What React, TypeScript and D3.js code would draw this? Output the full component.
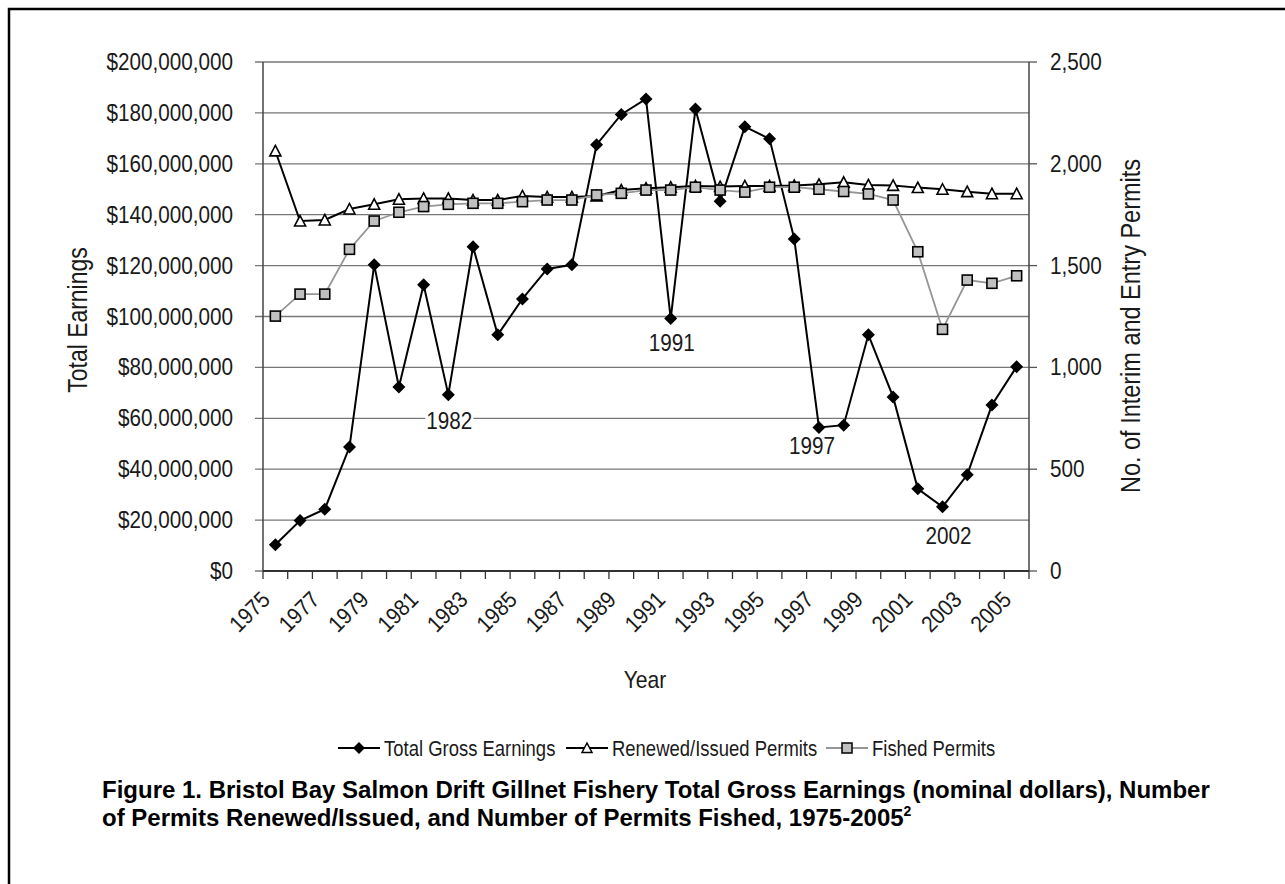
import React from "react";
import * as d3 from "d3";

const years = d3.range(1975, 2006).map(String);
// Total gross earnings, millions of dollars
const earnings = [10.3, 19.8, 24.3, 48.7, 120.3, 72.3, 112.5, 69.3, 127.4, 92.8, 106.9, 118.7, 120.3, 167.5, 179.4, 185.5, 99.2, 181.5, 145.3, 174.6, 169.8, 130.5, 56.4, 57.3, 92.8, 68.4, 32.3, 25.2, 37.8, 65.2, 80.3];
const renewed = [2063, 1719, 1724, 1778, 1801, 1826, 1830, 1830, 1822, 1822, 1842, 1837, 1837, 1842, 1871, 1880, 1885, 1891, 1888, 1891, 1891, 1893, 1899, 1909, 1896, 1894, 1883, 1875, 1863, 1853, 1853];
const fished = [1252, 1360, 1360, 1580, 1719, 1762, 1790, 1801, 1806, 1806, 1814, 1822, 1822, 1847, 1855, 1871, 1871, 1885, 1871, 1861, 1885, 1885, 1875, 1864, 1852, 1822, 1568, 1187, 1429, 1413, 1450];
const leftTicks = [0, 20, 40, 60, 80, 100, 120, 140, 160, 180, 200];
const rightTicks = [0, 500, 1000, 1500, 2000, 2500];
const annotations = [
  { year: "1982", dx: 1, y: 421 },
  { year: "1991", dx: 1, y: 343 },
  { year: "1997", dx: -7, y: 446 },
  { year: "2002", dx: 6, y: 536 },
];
const legendItems = ["Total Gross Earnings", "Renewed/Issued Permits", "Fished Permits"];

const FONT = "'Liberation Sans', Arial, sans-serif";

type TProps = {
  x: number;
  y: number;
  rot?: number;
  sx?: number;
  size?: number;
  anchor?: "start" | "middle" | "end";
  dy?: string;
  children: React.ReactNode;
};

function CText({ x, y, rot = 0, sx = 0.9, size = 23, anchor = "start", dy = "0.35em", children }: TProps) {
  return (
    <text
      transform={`translate(${x},${y}) rotate(${rot}) scale(${sx},1)`}
      textAnchor={anchor}
      dy={dy}
      fontFamily={FONT}
      fontSize={size}
      fill="#1a1a1a"
    >
      {children}
    </text>
  );
}

export default function App() {
  const L = 263, R = 1029, T = 62, B = 571;
  const x = d3.scaleBand<string>().domain(years).range([L, R]).padding(0);
  const cx = (y: string) => (x(y) as number) + x.bandwidth() / 2;
  const yL = d3.scaleLinear().domain([0, 200]).range([B, T]);
  const yR = d3.scaleLinear().domain([0, 2500]).range([B, T]);

  const lineE = d3.line<number>().x((_, i) => cx(years[i])).y((d) => yL(d));
  const lineR = d3.line<number>().x((_, i) => cx(years[i])).y((d) => yR(d));

  const diamond = (px: number, py: number, s = 6.5) =>
    `M${px},${py - s}L${px + s},${py}L${px},${py + s}L${px - s},${py}Z`;
  const triangle = (px: number, py: number, s = 5.5) =>
    `M${px},${py - s}L${px + s},${py + s * 0.9}L${px - s},${py + s * 0.9}Z`;

  const boundaries = d3.range(years.length + 1).map((i) => L + i * x.bandwidth());

  // legend layout
  const LY = 748;
  const legendStarts = [338, 566, 826];
  const legendTextSize = 22;
  const legendSx = 0.84;

  return (
    <svg
      width={1285}
      height={884}
      style={{ position: "absolute", left: 0, top: 0, display: "block", background: "#fff" }}
    >
      {/* frame */}
      <rect x={9} y={9} width={1300} height={900} fill="none" stroke="#000" strokeWidth={2.5} />

      {/* gridlines */}
      {leftTicks.map((t) => (
        <line key={"g" + t} x1={L - 8} x2={R} y1={yL(t)} y2={yL(t)} stroke="#777" strokeWidth={1.3} />
      ))}
      {rightTicks.map((t) => (
        <line key={"rt" + t} x1={R} x2={R + 8} y1={yR(t)} y2={yR(t)} stroke="#555" strokeWidth={1.3} />
      ))}
      {/* axes */}
      <line x1={L} x2={L} y1={T} y2={B} stroke="#444" strokeWidth={1.5} />
      <line x1={R} x2={R} y1={T} y2={B} stroke="#444" strokeWidth={1.5} />
      <line x1={L} x2={R} y1={B} y2={B} stroke="#333" strokeWidth={2} />
      {boundaries.map((bx, i) => (
        <line key={"xt" + i} x1={bx} x2={bx} y1={B} y2={B + 8} stroke="#333" strokeWidth={1.3} />
      ))}

      {/* left tick labels */}
      {leftTicks.map((t) => (
        <CText key={"lt" + t} x={233} y={yL(t)} anchor="end">
          {d3.format("$,")(t * 1000000)}
        </CText>
      ))}
      {/* right tick labels */}
      {rightTicks.map((t) => (
        <CText key={"rl" + t} x={1050} y={yR(t)}>
          {d3.format(",")(t)}
        </CText>
      ))}
      {/* x tick labels */}
      {years.filter((_, i) => i % 2 === 0).map((yr) => (
        <CText key={"xl" + yr} x={cx(yr) - 4} y={601} rot={-45} anchor="end" dy="0">
          {yr}
        </CText>
      ))}

      {/* axis titles */}
      <CText x={78} y={320} rot={-90} anchor="middle" size={27} sx={0.85}>
        Total Earnings
      </CText>
      <CText x={1131} y={326} rot={-90} anchor="middle" size={27} sx={0.87}>
        No. of Interim and Entry Permits
      </CText>
      <CText x={645} y={680} anchor="middle" size={24} sx={0.88}>
        Year
      </CText>

      {/* annotations */}
      {annotations.map((a) => (
        <g key={"an" + a.year}>
          <rect x={cx(a.year) + a.dx - 24} y={a.y - 10} width={48} height={20} fill="#fff" />
          <CText x={cx(a.year) + a.dx} y={a.y} anchor="middle">
            {a.year}
          </CText>
        </g>
      ))}

      {/* earnings */}
      <path d={lineE(earnings) || ""} fill="none" stroke="#000" strokeWidth={2} />
      {earnings.map((v, i) => (
        <path key={"d" + i} d={diamond(cx(years[i]), yL(v))} fill="#000" />
      ))}
      {/* renewed */}
      <path d={lineR(renewed) || ""} fill="none" stroke="#000" strokeWidth={2} />
      {renewed.map((v, i) => (
        <path key={"t" + i} d={triangle(cx(years[i]), yR(v))} fill="#fff" stroke="#000" strokeWidth={1.6} />
      ))}
      {/* fished */}
      <path d={lineR(fished) || ""} fill="none" stroke="#969696" strokeWidth={1.8} />
      {fished.map((v, i) => (
        <rect
          key={"s" + i}
          x={cx(years[i]) - 5}
          y={yR(v) - 5}
          width={10}
          height={10}
          fill="#c0c0c0"
          stroke="#000"
          strokeWidth={1.6}
        />
      ))}

      {/* legend */}
      <g>
        <line x1={legendStarts[0]} x2={legendStarts[0] + 42} y1={LY} y2={LY} stroke="#000" strokeWidth={2} />
        <path d={diamond(legendStarts[0] + 21, LY, 6)} fill="#000" />
        <CText x={legendStarts[0] + 46} y={LY} size={legendTextSize} sx={legendSx}>{legendItems[0]}</CText>

        <line x1={legendStarts[1]} x2={legendStarts[1] + 42} y1={LY} y2={LY} stroke="#000" strokeWidth={2} />
        <path d={triangle(legendStarts[1] + 21, LY, 5)} fill="#fff" stroke="#000" strokeWidth={1.5} />
        <CText x={legendStarts[1] + 46} y={LY} size={legendTextSize} sx={legendSx}>{legendItems[1]}</CText>

        <line x1={legendStarts[2]} x2={legendStarts[2] + 42} y1={LY} y2={LY} stroke="#969696" strokeWidth={2} />
        <rect x={legendStarts[2] + 16} y={LY - 5} width={10} height={10} fill="#c0c0c0" stroke="#000" strokeWidth={1.5} />
        <CText x={legendStarts[2] + 46} y={LY} size={legendTextSize} sx={legendSx}>{legendItems[2]}</CText>
      </g>

      {/* caption */}
      <text x={102} y={798} fontFamily={FONT} fontWeight="bold" fontSize={24} fill="#000">
        Figure 1. Bristol Bay Salmon Drift Gillnet Fishery Total Gross Earnings (nominal dollars), Number
      </text>
      <text x={102} y={826} fontFamily={FONT} fontWeight="bold" fontSize={24} fill="#000">
        of Permits Renewed/Issued, and Number of Permits Fished, 1975-2005
        <tspan dy={-10} fontSize={14}>2</tspan>
      </text>
    </svg>
  );
}
